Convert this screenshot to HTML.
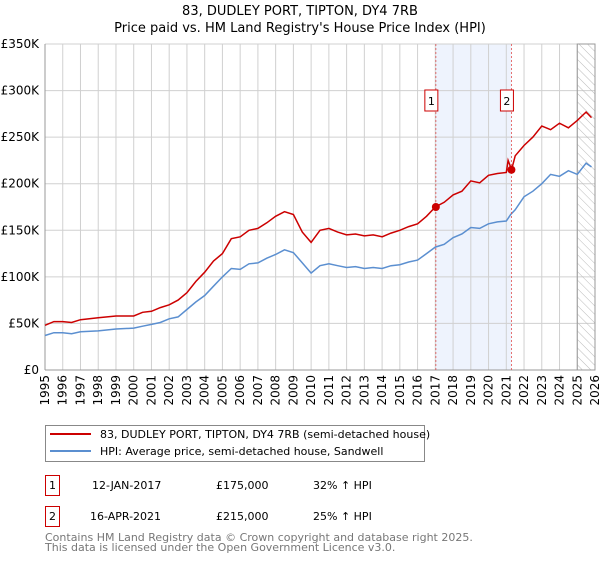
<!DOCTYPE html>
<html><head><meta charset="utf-8"><style>
body{margin:0;background:#fff;font-family:"Liberation Sans","DejaVu Sans",sans-serif;}
</style></head><body>
<svg width="600" height="560" xmlns="http://www.w3.org/2000/svg" id="svg" font-family="DejaVu Sans, Liberation Sans, sans-serif">
<defs><pattern id="hatch" width="6" height="6" patternUnits="userSpaceOnUse" patternTransform="rotate(-45)"><line x1="0" y1="0" x2="0" y2="6" stroke="#bbb" stroke-width="1"/></pattern></defs>
<text x="300" y="15" text-anchor="middle" font-size="13">83, DUDLEY PORT, TIPTON, DY4 7RB</text>
<text x="300" y="32" text-anchor="middle" font-size="13">Price paid vs. HM Land Registry's House Price Index (HPI)</text>
<g id="plot"></g>
<g>
<rect x="45.5" y="425.5" width="379" height="36" fill="#fff" stroke="#888"/>
<line x1="50" y1="434" x2="91" y2="434" stroke="#cc0000" stroke-width="2"/>
<text x="100" y="438" font-size="11">83, DUDLEY PORT, TIPTON, DY4 7RB (semi-detached house)</text>
<line x1="50" y1="451" x2="91" y2="451" stroke="#5b8fd0" stroke-width="2"/>
<text x="100" y="455" font-size="11">HPI: Average price, semi-detached house, Sandwell</text>
</g>
<g font-size="11">
<rect x="45.5" y="475.5" width="14" height="20" fill="#fff" stroke="#cc0000"/>
<text x="52.5" y="489" text-anchor="middle">1</text>
<text x="92" y="489">12-JAN-2017</text><text x="216" y="489">£175,000</text><text x="313" y="489">32% ↑ HPI</text>
<rect x="45.5" y="506.5" width="14" height="20" fill="#fff" stroke="#cc0000"/>
<text x="52.5" y="520" text-anchor="middle">2</text>
<text x="90" y="520">16-APR-2021</text><text x="216" y="520">£215,000</text><text x="313" y="520">25% ↑ HPI</text>
</g>
<text x="45" y="541" font-size="11" fill="#777">Contains HM Land Registry data © Crown copyright and database right 2025.</text>
<text x="45" y="551" font-size="11" fill="#777">This data is licensed under the Open Government Licence v3.0.</text>
</svg>
<script>
const hpiYears=[1995,1995.5,1996,1996.5,1997,1998,1999,2000,2000.5,2001,2001.5,2002,2002.5,2003,2003.5,2004,2004.5,2005,2005.5,2006,2006.5,2007,2007.5,2008,2008.5,2009,2009.5,2010,2010.5,2011,2011.5,2012,2012.5,2013,2013.5,2014,2014.5,2015,2015.5,2016,2016.5,2017,2017.5,2018,2018.5,2019,2019.5,2020,2020.5,2021,2021.25,2021.5,2022,2022.5,2023,2023.5,2024,2024.5,2025,2025.5,2025.8];
const hpiValues=[37,40,40,39,41,42,44,45,47,49,51,55,57,65,73,80,90,100,109,108,114,115,120,124,129,126,115,104,112,114,112,110,111,109,110,109,112,113,116,118,125,132,135,142,146,153,152,157,159,160,167,172,186,192,200,210,208,214,210,222,218];
const priceYears=[1995,1995.5,1996,1996.5,1997,1998,1999,2000,2000.5,2001,2001.5,2002,2002.5,2003,2003.5,2004,2004.5,2005,2005.5,2006,2006.5,2007,2007.5,2008,2008.5,2009,2009.5,2010,2010.5,2011,2011.5,2012,2012.5,2013,2013.5,2014,2014.5,2015,2015.5,2016,2016.5,2017,2017.5,2018,2018.5,2019,2019.5,2020,2020.5,2021,2021.1,2021.3,2021.5,2022,2022.5,2023,2023.5,2024,2024.5,2025,2025.5,2025.8];
const priceValues=[48,52,52,51,54,56,58,58,62,63,67,70,75,83,95,105,117,125,141,143,150,152,158,165,170,167,148,137,150,152,148,145,146,144,145,143,147,150,154,157,165,175,180,188,192,203,201,209,211,212,225,215,230,241,250,262,258,265,260,268,277,271];
const saleYears=[2017.03,2021.29];
const saleValues=[175,215];
const saleLabels=["1","2"];
const yTicks=[0,50,100,150,200,250,300,350];
const yTickLabels=["£0","£50K","£100K","£150K","£200K","£250K","£300K","£350K"];
const xTicks=[1995,1996,1997,1998,1999,2000,2001,2002,2003,2004,2005,2006,2007,2008,2009,2010,2011,2012,2013,2014,2015,2016,2017,2018,2019,2020,2021,2022,2023,2024,2025,2026];

const NS="http://www.w3.org/2000/svg";
const g=document.getElementById('plot');
const L=45,R=595,T=44,B=370;
const x=v=>L+(v-1995)*(R-L)/31;
const y=v=>B-v*(B-T)/350;
function mk(t,a,p){const e=document.createElementNS(NS,t);for(const k in a)e.setAttribute(k,a[k]);(p||g).appendChild(e);return e;}
let e;
e=mk('rect',{x:x(saleYears[0]),y:T,width:x(saleYears[1])-x(saleYears[0]),height:B-T,fill:'#eef3fd'});


xTicks.forEach(t=>{
 e=mk('line',{x1:x(t),x2:x(t),y1:T,y2:B,stroke:'#d0d0d0'});
 
 
 e=mk('text',{x:0,y:0,'font-size':12,'text-anchor':'end',transform:`translate(${x(t)+4},${B+5}) rotate(-90)`});
 e.textContent=t;
 
 
});
yTicks.forEach((t,i)=>{
 e=mk('line',{x1:L,x2:R,y1:y(t),y2:y(t),stroke:'#d0d0d0'});
 
 
 e=mk('text',{x:L-6,y:y(t)+4,'font-size':12,'text-anchor':'end'});
 e.textContent=yTickLabels[i];
 
 
});
e=mk('rect',{x:x(2025),y:T,width:R-x(2025),height:B-T,fill:'url(#hatch)',stroke:'#999'});


e=mk('line',{x1:L,x2:L,y1:T,y2:B,stroke:'#999'});


e=mk('line',{x1:L,x2:R,y1:B,y2:B,stroke:'#999'});


function path(xs,vs){return xs.map((v,i)=>(i?'L':'M')+x(v).toFixed(1)+','+y(vs[i]).toFixed(1)).join('');}
e=mk('path',{d:path(hpiYears,hpiValues),fill:'none',stroke:'#5b8fd0','stroke-width':1.5});


e=mk('path',{d:path(priceYears,priceValues),fill:'none',stroke:'#cc0000','stroke-width':1.5});


saleYears.forEach((s,i)=>{
 e=mk('line',{x1:x(s),x2:x(s),y1:T,y2:B,stroke:'#e05050','stroke-dasharray':'2,2','stroke-width':0.8});
 
 
 e=mk('circle',{cx:x(s),cy:y(saleValues[i]),r:4,fill:'#cc0000'});
 
 
 e=mk('rect',{x:x(s)-11,y:90,width:13,height:21,fill:'#fff',stroke:'#cc0000'});
 
 
 e=mk('text',{x:x(s)-4.5,y:105,'font-size':11,'text-anchor':'middle'});
 e.textContent=saleLabels[i];
 
 
});
</script>
</body></html>
